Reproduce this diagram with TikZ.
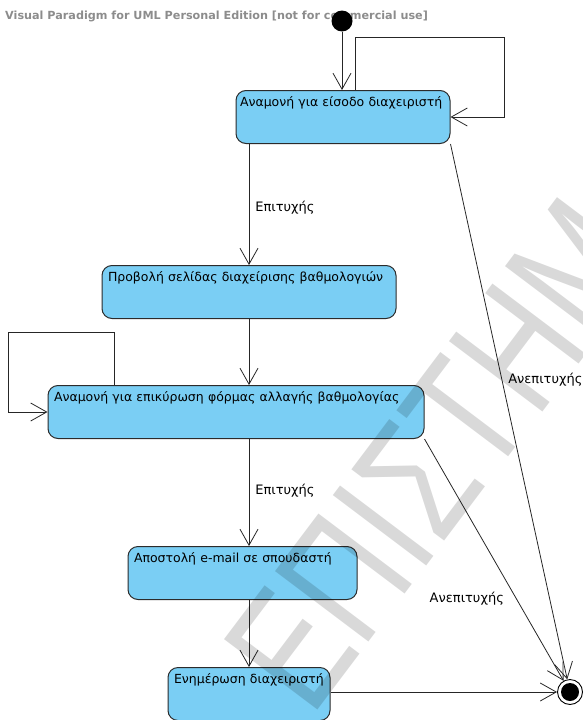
\documentclass[tikz,border=0pt]{standalone}
\usepackage{fontspec}
\setmainfont{DejaVu Sans}
\newfontfamily\wmfont{Liberation Sans}
\usepackage{xcolor}
\usepackage{tikz}
\usetikzlibrary{positioning, arrows.meta, calc}
\definecolor{stateblue}{HTML}{7ACEF4}
\definecolor{stateline}{HTML}{2B2B2B}
\definecolor{vpgray}{HTML}{8C8C8C}

\tikzset{
    statebox/.style={fill=stateblue, draw=stateline, line width=1pt, rounded corners=10pt,
          anchor=north, inner xsep=6pt, inner ysep=3pt, align=left,
          text height=13pt, text depth=34pt, font=\fontsize{12.5}{14}\selectfont},
    initial/.style={circle, fill=black, inner sep=0pt, minimum size=21pt},
    final/.style={circle, draw=black, line width=0.9pt, inner sep=0pt, minimum size=25pt,
          path picture={\fill[black] (path picture bounding box.center) circle (9pt);}},
    trans/.style={draw=black!85, line width=0.8pt,
          -{Straight Barb[length=16pt, width=18pt, line width=0.8pt]}},
    guard/.style={font=\fontsize{13}{15}\selectfont, inner sep=0pt},
    header/.style={text=vpgray, font=\bfseries\fontsize{11.2}{12}\selectfont, inner sep=0pt},
    watermark/.style={text=black, opacity=0.15, font=\wmfont\fontsize{170}{170}\selectfont, inner sep=0pt}
}

\begin{document}
\begin{tikzpicture}[x=1pt, y=-1pt]
    \useasboundingbox (0,0) rectangle (583,720);
    \clip (0,0) rectangle (583,720);
    \node[header, anchor=west] (vp) at (5,16) {Visual Paradigm for UML Personal Edition [not for commercial use]};

    % states
    \node[initial] (init) at (342,21) {};
    \node[statebox, inner xsep=4pt, minimum width=214pt, text width=206pt] (wait) at (343,90) {Αναμονή για είσοδο διαχειριστή};
    \node[statebox, minimum width=294pt, text width=282pt] (page) at (249,265) {Προβολή σελίδας διαχείρισης βαθμολογιών};
    \node[statebox, minimum width=376pt, text width=364pt] (form) at (236,385) {Αναμονή για επικύρωση φόρμας αλλαγής βαθμολογίας};
    \node[statebox, minimum width=229pt, text width=217pt] (mail) at (242.5,546) {Αποστολή e-mail σε σπουδαστή};
    \node[statebox, minimum width=162pt, text width=150pt] (notify) at (249,667) {Ενημέρωση διαχειριστή};
    \node[final] (final) at (570,692) {};

    % transitions
    \draw[trans] (init) -- (init |- wait.north);
    \draw[trans] ([xshift=120pt]wait.north west) |- (504,37) |- (wait.east);
    \draw[trans] (wait.south -| page.north) -- (page.north)
        node[guard, pos=0.53, right=6pt] {Επιτυχής};
    \draw[trans] (page.south) -- (page.south |- form.north);
    \draw[trans] ([xshift=67pt]form.north west) |- (8,332) |- (form.west);
    \draw[trans] (form.south -| notify.north) -- (mail.north -| notify.north)
        node[guard, pos=0.48, right=6pt] {Επιτυχής};
    \draw[trans] (mail.south -| notify.north) -- (notify.north);
    \draw[trans] (notify.east |- final) -- (final);
    \draw[trans] (wait.south east) -- (final)
        node[guard, pos=0.44, right=6pt] {Ανεπιτυχής};
    \draw[trans] (form.south east) -- (final)
        node[guard, pos=0.66, left=12pt] {Ανεπιτυχής};

    % watermark
    \node[watermark, rotate=53, anchor=base west] (wm) at (311,719) {\scalebox{0.76}[1]{ΕΠΙΣΤΗΜ}};
\end{tikzpicture}
\end{document}
